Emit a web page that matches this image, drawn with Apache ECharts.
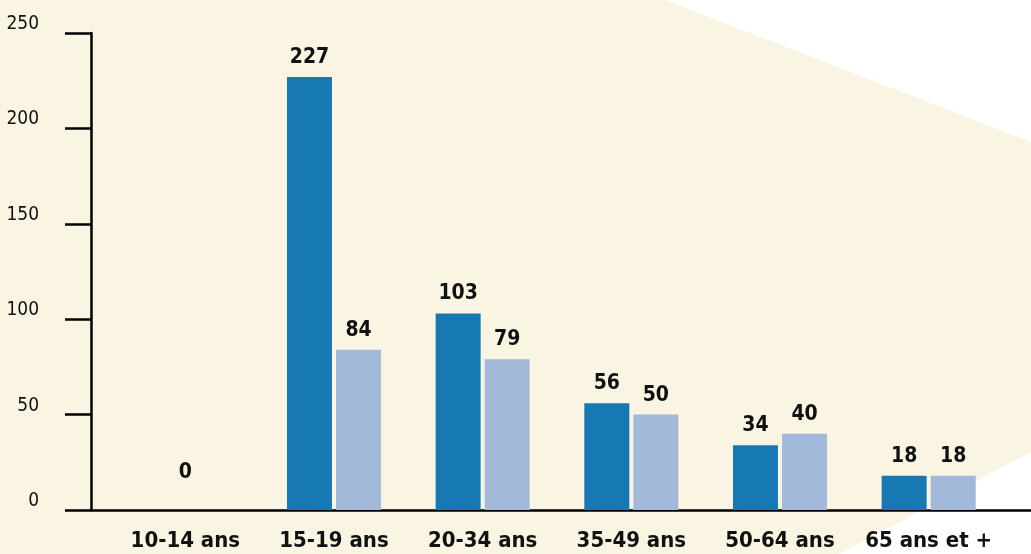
<!DOCTYPE html>
<html>
<head>
<meta charset="utf-8">
<script src="https://cdn.jsdelivr.net/npm/echarts@6/dist/echarts.min.js"></script>
<style>
  html, body { margin: 0; padding: 0; background: #ffffff; }
  #main { width: 1031px; height: 554px; }
</style>
</head>
<body>
<div id="main"></div>
<script>
// données
var categories = ['10-14 ans', '15-19 ans', '20-34 ans', '35-49 ans', '50-64 ans', '65 ans et +'];
var serieA = [0, 227, 103, 56, 34, 18];
var serieB = [null, 84, 79, 50, 40, 18];
var yTicks = [0, 50, 100, 150, 200, 250];

var fontNarrow = '"DejaVu Sans Condensed", "Liberation Sans Narrow", "Roboto", sans-serif';

var myChart = echarts.init(document.getElementById('main'));

// le "0" de la premiere classe est centre sur la categorie
var dataA = serieA.map(function (v, i) {
    if (i === 0) {
        return { value: v, label: { offset: [24.5, -18] } };
    }
    return v;
});

var option = {
    animation: false,
    backgroundColor: '#ffffff',
    graphic: [{
        type: 'polygon',
        z: -10,
        silent: true,
        shape: {
            points: [[0, 0], [665, 0], [1031, 142], [1031, 452], [839, 554], [0, 554]]
        },
        style: { fill: '#faf5e2' }
    }],
    grid: [
        { left: 111, right: 28, top: 33, bottom: 44, containLabel: false, outerBoundsMode: 'none' },
        { left: 91, right: 0, top: 33, bottom: 44, containLabel: false, outerBoundsMode: 'none' }
    ],
    xAxis: [{
        type: 'category',
        gridIndex: 0,
        data: categories,
        axisLine: { show: false },
        axisTick: { show: false },
        axisLabel: {
            interval: 0,
            margin: 20,
            fontFamily: fontNarrow,
            fontWeight: 'bold',
            fontSize: 22,
            color: '#111111'
        }
    }, {
        type: 'value',
        gridIndex: 1,
        min: 0,
        max: 1,
        axisLine: { show: true, lineStyle: { color: '#000000', width: 2.5 } },
        axisTick: { show: false },
        axisLabel: { show: false },
        splitLine: { show: false }
    }],
    yAxis: [{
        type: 'value',
        gridIndex: 0,
        min: 0,
        max: 250,
        interval: 50,
        show: false,
        splitLine: { show: false }
    }, {
        type: 'value',
        gridIndex: 1,
        min: yTicks[0],
        max: yTicks[yTicks.length - 1],
        interval: 50,
        axisLine: { show: true, lineStyle: { color: '#000000', width: 2.5 } },
        axisTick: { show: true, length: 26, lineStyle: { color: '#000000', width: 2.5 } },
        splitLine: { show: false },
        axisLabel: {
            margin: 52,
            verticalAlign: 'bottom',
            lineHeight: 18,
            fontFamily: fontNarrow,
            fontSize: 19,
            color: '#111111'
        }
    }],
    series: [{
        name: 'A',
        type: 'bar',
        xAxisIndex: 0,
        yAxisIndex: 0,
        data: dataA,
        barWidth: 45,
        barGap: '9%',
        itemStyle: { color: '#1679b3' },
        label: {
            show: true,
            position: 'top',
            distance: 9,
            fontFamily: fontNarrow,
            fontWeight: 'bold',
            fontSize: 21,
            color: '#111111'
        }
    }, {
        name: 'B',
        type: 'bar',
        xAxisIndex: 0,
        yAxisIndex: 0,
        data: serieB,
        barWidth: 45,
        itemStyle: { color: '#a2b9da' },
        label: {
            show: true,
            position: 'top',
            distance: 9,
            fontFamily: fontNarrow,
            fontWeight: 'bold',
            fontSize: 21,
            color: '#111111'
        }
    }]
};

myChart.setOption(option);
window.onresize = function () {
    myChart.resize();
};
</script>
</body>
</html>
